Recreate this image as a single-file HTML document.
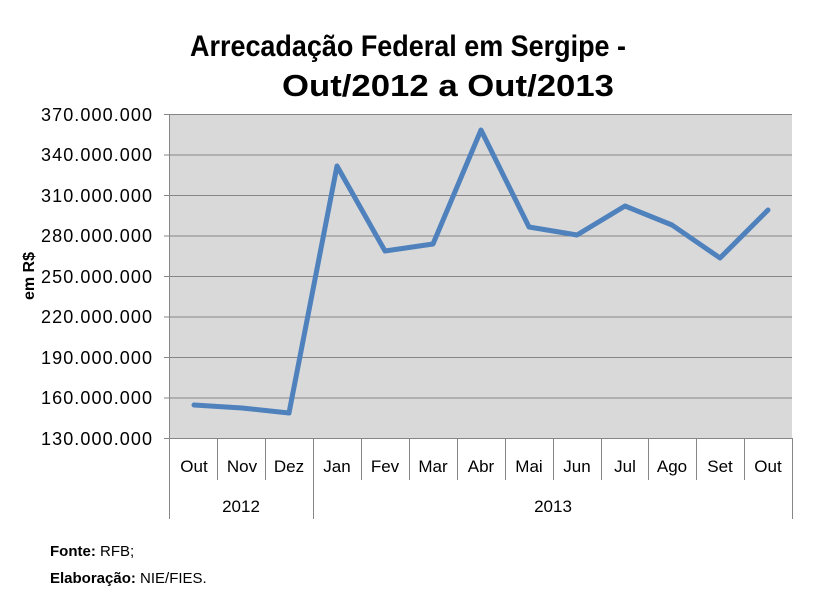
<!DOCTYPE html>
<html><head><meta charset="utf-8"><style>
body{margin:0;background:#fff;}
svg{display:block;font-family:"Liberation Sans",sans-serif;}
</style></head><body>
<svg width="814" height="603" viewBox="0 0 814 603">
<rect width="814" height="603" fill="#fff"/>
<text x="408" y="56" font-size="30" font-weight="bold" text-anchor="middle" fill="#000" textLength="436" lengthAdjust="spacingAndGlyphs">Arrecadação Federal em Sergipe -</text>
<text x="448" y="96" font-size="31" font-weight="bold" text-anchor="middle" fill="#000" textLength="332" lengthAdjust="spacingAndGlyphs">Out/2012 a Out/2013</text>
<rect x="170" y="114" width="622" height="324" fill="#d9d9d9"/>
<g stroke="#868686" stroke-width="1">
<line x1="164" y1="114.5" x2="792" y2="114.5"/>
<line x1="164" y1="155" x2="792" y2="155"/>
<line x1="164" y1="195.5" x2="792" y2="195.5"/>
<line x1="164" y1="236" x2="792" y2="236"/>
<line x1="164" y1="276.5" x2="792" y2="276.5"/>
<line x1="164" y1="317" x2="792" y2="317"/>
<line x1="164" y1="357.5" x2="792" y2="357.5"/>
<line x1="164" y1="398" x2="792" y2="398"/>
<line x1="164" y1="438.5" x2="792" y2="438.5"/>
<line x1="169.5" y1="114" x2="169.5" y2="519"/>
<line x1="313.5" y1="438" x2="313.5" y2="519"/>
<line x1="792.5" y1="438" x2="792.5" y2="519"/>
<line x1="217.5" y1="438" x2="217.5" y2="480"/>
<line x1="265.5" y1="438" x2="265.5" y2="480"/>
<line x1="361.5" y1="438" x2="361.5" y2="480"/>
<line x1="409.5" y1="438" x2="409.5" y2="480"/>
<line x1="457.5" y1="438" x2="457.5" y2="480"/>
<line x1="505.5" y1="438" x2="505.5" y2="480"/>
<line x1="553.5" y1="438" x2="553.5" y2="480"/>
<line x1="601.5" y1="438" x2="601.5" y2="480"/>
<line x1="648.5" y1="438" x2="648.5" y2="480"/>
<line x1="696.5" y1="438" x2="696.5" y2="480"/>
<line x1="744.5" y1="438" x2="744.5" y2="480"/>
</g>
<g font-size="18" text-anchor="end" fill="#000">
<text x="152" y="121" textLength="111">370.000.000</text>
<text x="152" y="161" textLength="111">340.000.000</text>
<text x="152" y="202" textLength="111">310.000.000</text>
<text x="152" y="242" textLength="111">280.000.000</text>
<text x="152" y="283" textLength="111">250.000.000</text>
<text x="152" y="323" textLength="111">220.000.000</text>
<text x="152" y="364" textLength="111">190.000.000</text>
<text x="152" y="404" textLength="111">160.000.000</text>
<text x="152" y="445" textLength="111">130.000.000</text>
</g>
<text transform="translate(34,276) rotate(-90)" font-size="16" font-weight="bold" text-anchor="middle">em R$</text>
<g font-size="17" text-anchor="middle" fill="#000">
<text x="194" y="472">Out</text><text x="242" y="472">Nov</text><text x="289" y="472">Dez</text>
<text x="337" y="472">Jan</text><text x="385" y="472">Fev</text><text x="433" y="472">Mar</text>
<text x="481" y="472">Abr</text><text x="529" y="472">Mai</text><text x="577" y="472">Jun</text>
<text x="625" y="472">Jul</text><text x="672" y="472">Ago</text><text x="720" y="472">Set</text>
<text x="768" y="472">Out</text>
<text x="241" y="512">2012</text><text x="553" y="512">2013</text>
</g>
<polyline fill="none" stroke="#4f81bd" stroke-width="5" stroke-linejoin="round" stroke-linecap="round"
points="194,405 242,408 289,413 337,166 385,251 433,244 481,130 529,227 577,235 625,206 672,225 720,258 768,210"/>
<text x="50" y="556" font-size="15"><tspan font-weight="bold">Fonte:</tspan> RFB;</text>
<text x="50" y="583" font-size="15"><tspan font-weight="bold">Elaboração:</tspan> NIE/FIES.</text>
</svg>
</body></html>
